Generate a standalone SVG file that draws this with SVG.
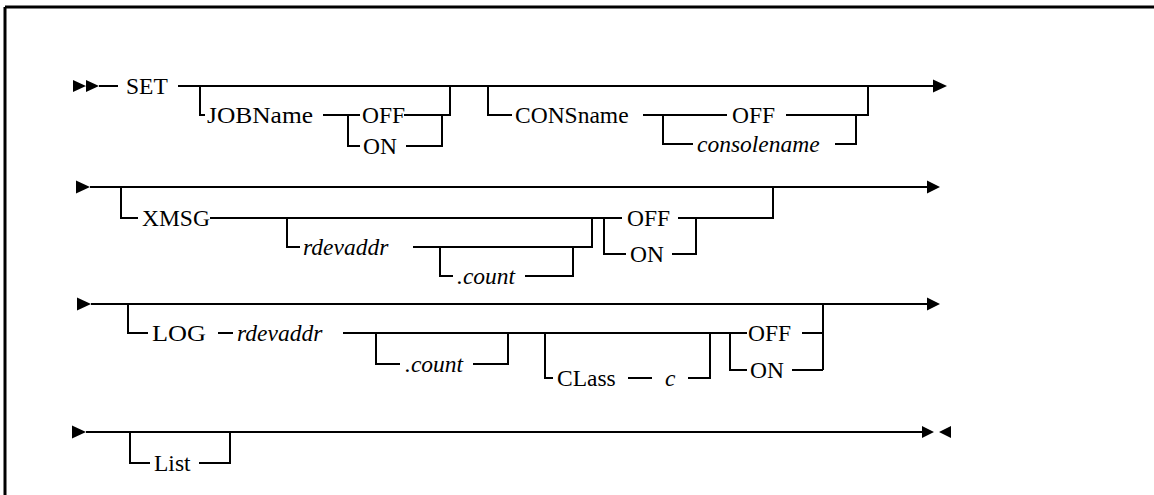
<svg xmlns="http://www.w3.org/2000/svg" width="1154" height="495" viewBox="0 0 1154 495">
<style>
.t{font-family:"Liberation Serif","Times New Roman",serif;font-size:23.5px;fill:#000}
.i{font-style:italic}
.c{fill:none;stroke:#000;stroke-width:2}
.a{fill:#000;stroke:none}
.f{fill:none;stroke:#000;stroke-width:3}
</style>
<rect width="1154" height="495" fill="#fff"/>
<path class="f" d="M5,7H1154M5,7V495"/>
<g id="connectors">
<!-- row 1 -->
<path class="a" d="M73,80L86,86L73,92ZM86,80L99,86L86,92Z"/>
<path class="c" d="M99,86H118M178,86H933"/>
<path class="a" d="M933,79.5L947,86L933,92.5Z"/>
<path class="c" d="M200,86V115H205M323,115H360M348,115V146H360M404,115H450V86M406,146H442V115"/>
<path class="c" d="M488,86V115H512M643,115H727M663,115V144H693M786,115H868V86M835,144H856V115"/>
<!-- row 2 -->
<path class="a" d="M76,180.5L90,187L76,193.5Z"/>
<path class="c" d="M90,187H927"/>
<path class="a" d="M927,180.5L940,187L927,193.5Z"/>
<path class="c" d="M121,187V218H138M210,218H622M287,218V247H300M413,247H592V218M440,247V276H453M525,276H573V247"/>
<path class="c" d="M604,218V254H626M678,218H773V187M672,254H696V218"/>
<!-- row 3 -->
<path class="a" d="M77,297.5L91,304L77,310.5Z"/>
<path class="c" d="M91,304H927"/>
<path class="a" d="M927,297.5L940,304L927,310.5Z"/>
<path class="c" d="M128,304V333H148M218,333H233M343,333H747M376,333V364H400M473,364H508V333M545,333V378H553M628,378H652M688,378H710V333"/>
<path class="c" d="M730,333V370H747M802,333H823M792,370H823M823,304V370"/>
<!-- row 4 -->
<path class="a" d="M72,425.5L86,432L72,438.5Z"/>
<path class="c" d="M86,432H922M130,432V463H150M199,463H230V432"/>
<path class="a" d="M922,426L934,432L922,438ZM951,426L939,432L951,438Z"/>
</g>
<g id="n-set"><text class="t" x="126" y="94">SET</text></g>
<g id="n-jobname"><text class="t" x="207" y="123" textLength="106" lengthAdjust="spacingAndGlyphs">JOBName</text></g>
<g id="n-job-off"><text class="t" x="362" y="123">OFF</text></g>
<g id="n-job-on"><text class="t" x="363" y="154">ON</text></g>
<g id="n-consname"><text class="t" x="515" y="123">CONSname</text></g>
<g id="n-cons-off"><text class="t" x="732" y="123">OFF</text></g>
<g id="n-consolename"><text class="t i" x="697" y="152">consolename</text></g>
<g id="n-xmsg"><text class="t" x="142" y="226">XMSG</text></g>
<g id="n-xmsg-rdevaddr"><text class="t i" x="303" y="255">rdevaddr</text></g>
<g id="n-xmsg-count"><text class="t i" x="457" y="284">.count</text></g>
<g id="n-xmsg-off"><text class="t" x="627" y="226">OFF</text></g>
<g id="n-xmsg-on"><text class="t" x="630" y="262">ON</text></g>
<g id="n-log"><text class="t" x="152" y="341" textLength="54" lengthAdjust="spacingAndGlyphs">LOG</text></g>
<g id="n-log-rdevaddr"><text class="t i" x="237" y="341">rdevaddr</text></g>
<g id="n-log-count"><text class="t i" x="405" y="372">.count</text></g>
<g id="n-class"><text class="t" x="557" y="386">CLass</text></g>
<g id="n-c"><text class="t i" x="665" y="386">c</text></g>
<g id="n-log-off"><text class="t" x="748" y="341">OFF</text></g>
<g id="n-log-on"><text class="t" x="750" y="378">ON</text></g>
<g id="n-list"><text class="t" x="154" y="471">List</text></g>
</svg>
